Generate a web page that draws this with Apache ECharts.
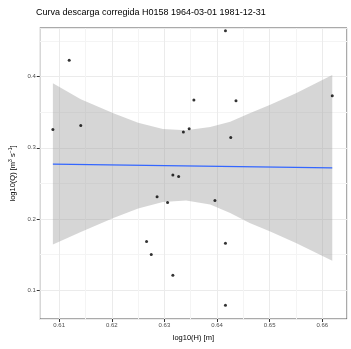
<!DOCTYPE html>
<html>
<head>
<meta charset="utf-8">
<script src="https://cdn.jsdelivr.net/npm/echarts@6/dist/echarts.min.js"></script>
<style>
  html, body { margin: 0; padding: 0; background: #fff; }
  #chart { width: 351px; height: 349px; }
</style>
</head>
<body>
<div id="chart"></div>
<script>
// observed points: log10(H) vs log10(Q)
const logH = [0.6088, 0.6119, 0.6141, 0.6266, 0.6275, 0.6286, 0.6306, 0.6316, 0.6316,
  0.6327, 0.6336, 0.6347, 0.6356, 0.6396, 0.6416, 0.6416, 0.6416, 0.6426, 0.6436, 0.6619];
const logQ = [0.3259, 0.4231, 0.3315, 0.1681, 0.1498, 0.2311, 0.2232, 0.2616, 0.1207,
  0.2598, 0.3221, 0.3267, 0.3671, 0.2257, 0.4647, 0.1657, 0.0785, 0.3146, 0.3660, 0.3731];

// fitted line
const fitH = [0.6088, 0.6619];
const fitQ = [0.2771, 0.2719];

// confidence band
const bandH = [0.6088, 0.6141, 0.6203, 0.6250, 0.6297, 0.6341, 0.6387, 0.6425, 0.6462, 0.6500, 0.6550, 0.6619];
const bandUpper = [0.3907, 0.3682, 0.3485, 0.3353, 0.3264, 0.3246, 0.3293, 0.3367, 0.3485, 0.3602, 0.3767, 0.4024];
const bandLower = [0.1639, 0.1817, 0.2014, 0.2145, 0.2239, 0.2257, 0.2201, 0.2084, 0.1944, 0.1826, 0.1662, 0.1413];

const titleText = 'Curva descarga corregida H0158 1964-03-01 1981-12-31';

const chart = echarts.init(document.getElementById('chart'), null, { renderer: 'canvas' });

const axisCommon = {
  type: 'value',
  axisLine: { show: false },
  axisTick: { show: true, length: 3, lineStyle: { color: '#333333', width: 1 } },
  axisLabel: { color: '#4d4d4d', fontSize: 6, fontFamily: 'Liberation Sans, Arial', showMinLabel: false, showMaxLabel: false },
  splitLine: { show: true, lineStyle: { color: '#ebebeb', width: 1 } },
  minorTick: { show: false, splitNumber: 2 },
  minorSplitLine: { show: true, lineStyle: { color: '#f4f4f4', width: 1 } },
  nameLocation: 'middle',
  nameTextStyle: { color: '#000', fontSize: 7.5, fontFamily: 'Liberation Sans, Arial' }
};

chart.setOption({
  animation: false,
  backgroundColor: '#fff',
  title: {
    text: titleText,
    left: 31,
    top: 3,
    textStyle: { fontSize: 9, fontWeight: 'normal', color: '#000', fontFamily: 'Liberation Sans, Arial' }
  },
  grid: {
    left: 37,
    right: 4,
    top: 28,
    bottom: 30,
    show: true,
    borderColor: '#555555',
    borderWidth: 1,
    backgroundColor: 'transparent'
  },
  xAxis: Object.assign({}, axisCommon, {
    min: 0.6063,
    max: 0.6647,
    name: 'log10(H) [m]',
    nameGap: 15,
    axisLabel: Object.assign({}, axisCommon.axisLabel, { margin: 3 })
  }),
  yAxis: Object.assign({}, axisCommon, {
    min: 0.0592,
    max: 0.4685,
    name: 'log10(Q) [m{sup|3} s{sup|\u22121}]',
    nameGap: 17,
    nameTextStyle: Object.assign({}, axisCommon.nameTextStyle, {
      rich: { sup: { fontSize: 5, verticalAlign: 'top', padding: [0, 0, 4, 0], fontFamily: 'Liberation Sans, Arial' } }
    }),
    axisLabel: Object.assign({}, axisCommon.axisLabel, { margin: 4 })
  }),
  series: [
    {
      type: 'custom',
      name: 'band',
      z: 1,
      clip: true,
      encode: { x: 0, y: [1, 2] },
      data: bandH.map((h, i) => [h, bandLower[i], bandUpper[i]]),
      renderItem: function (params, api) {
        if (params.dataIndex !== 0) return null;
        const pts = [];
        for (let i = 0; i < bandH.length; i++) pts.push(api.coord([bandH[i], bandUpper[i]]));
        for (let i = bandH.length - 1; i >= 0; i--) pts.push(api.coord([bandH[i], bandLower[i]]));
        return {
          type: 'polygon',
          shape: { points: pts },
          style: { fill: 'rgba(153,153,153,0.4)', stroke: null }
        };
      }
    },
    {
      type: 'line',
      name: 'fit',
      z: 3,
      showSymbol: false,
      data: fitH.map((h, i) => [h, fitQ[i]]),
      lineStyle: { color: '#3366ff', width: 1.2 }
    },
    {
      type: 'scatter',
      name: 'obs',
      z: 4,
      symbolSize: 3,
      itemStyle: { color: '#000' },
      data: logH.map((h, i) => [h, logQ[i]])
    }
  ]
});
</script>
</body>
</html>
